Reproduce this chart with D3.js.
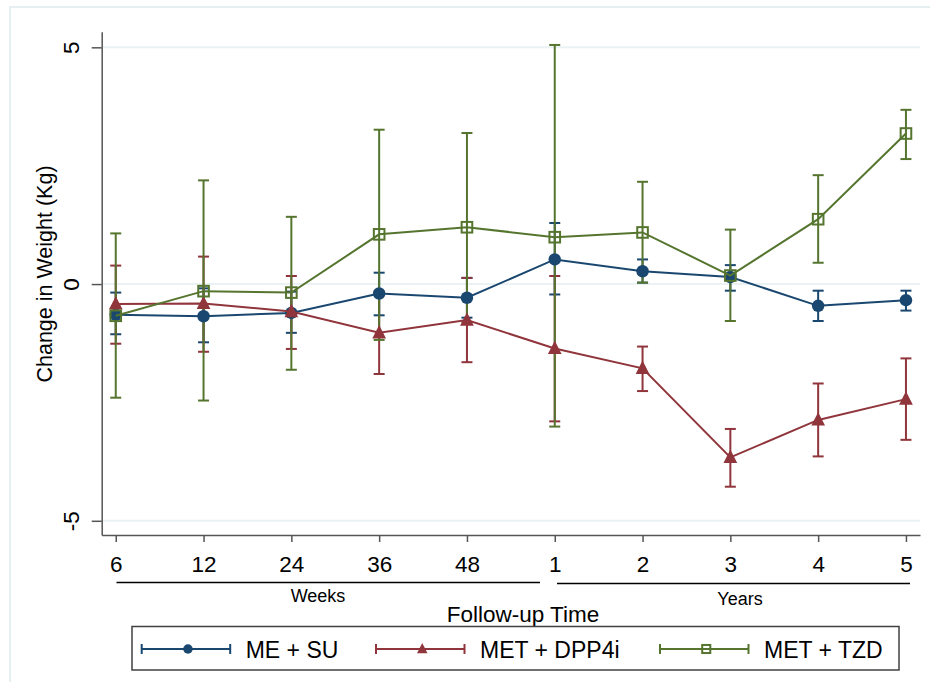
<!DOCTYPE html>
<html>
<head>
<meta charset="utf-8">
<script src="https://cdn.jsdelivr.net/npm/d3@7"></script>
<style>
  body { margin: 0; background: #fff; }
  svg { display: block; font-family: "Liberation Sans", Arial, sans-serif; }
</style>
</head>
<body>
<svg id="chart" width="930" height="682"></svg>
<script>
// follow-up points: weeks then years
var categories = ["6", "12", "24", "36", "48", "1", "2", "3", "4", "5"];
var yTicks = [-5, 0, 5];

// ME + SU
var suMean = [-0.65, -0.68, -0.61, -0.20, -0.29, 0.52, 0.27, 0.15, -0.46, -0.34];
var suLow  = [-1.06, -1.23, -1.03, -0.66, -0.71, -0.22, 0.03, -0.14, -0.78, -0.56];
var suHigh = [-0.18, -0.09, -0.16, 0.24, 0.13, 1.29, 0.52, 0.40, -0.14, -0.14];

// MET + DPP4i
var dppMean = [-0.42, -0.41, -0.58, -1.03, -0.76, -1.36, -1.78, -3.66, -2.87, -2.43];
var dppLow  = [-1.26, -1.43, -1.37, -1.90, -1.65, -2.90, -2.26, -4.28, -3.64, -3.29];
var dppHigh = [0.39, 0.58, 0.17, -0.16, 0.13, 0.17, -1.32, -3.06, -2.10, -1.57];

// MET + TZD
var tzdMean = [-0.67, -0.15, -0.18, 1.05, 1.20, 0.99, 1.09, 0.18, 1.37, 3.18];
var tzdLow  = [-2.40, -2.46, -1.81, -1.18, -0.80, -3.01, 0.03, -0.78, 0.45, 2.64];
var tzdHigh = [1.07, 2.19, 1.42, 3.26, 3.19, 5.05, 2.16, 1.15, 2.30, 3.68];

var series = [
    { name: "ME + SU",     color: "#1a476f", marker: "circle",   mean: suMean,  low: suLow,  high: suHigh },
    { name: "MET + DPP4i", color: "#90353b", marker: "triangle", mean: dppMean, low: dppLow, high: dppHigh },
    { name: "MET + TZD",   color: "#55752f", marker: "square",   mean: tzdMean, low: tzdLow, high: tzdHigh }
];

var svg = d3.select("#chart");
var plot = { left: 101.7, right: 920, top: 31.7, bottom: 535 };

var x = d3.scaleLinear().domain([-0.16, 9.16]).range([plot.left, plot.right]);
var y = d3.scaleLinear().domain([-5.3, 5.33]).range([plot.bottom, plot.top]);

// outer graph region outline
svg.append("rect")
    .attr("x", 10).attr("y", 7).attr("width", 940).attr("height", 700)
    .attr("fill", "none").attr("stroke", "#e6eff1").attr("stroke-width", 2);

// gridlines
svg.append("g").selectAll("line")
    .data(yTicks)
    .join("line")
    .attr("x1", plot.left).attr("x2", plot.right)
    .attr("y1", function (d) { return y(d); })
    .attr("y2", function (d) { return y(d); })
    .attr("stroke", "#eaf2f3").attr("stroke-width", 2);

// y axis (stata style: labels turned sideways, plain hyphen minus)
var yAxis = svg.append("g")
    .attr("transform", "translate(" + plot.left + ",0)")
    .call(d3.axisLeft(y).tickValues(yTicks).tickSize(10).tickSizeOuter(0)
        .tickFormat(function (d) { return String(d); }));
yAxis.select(".domain").attr("stroke", "#555").attr("stroke-width", 1.5);
yAxis.selectAll(".tick line").attr("stroke", "#555").attr("stroke-width", 1.5);
yAxis.selectAll(".tick text")
    .attr("x", null).attr("dy", null)
    .attr("transform", "translate(-22.5,0) rotate(-90)")
    .attr("text-anchor", "middle")
    .attr("font-size", 22.5).attr("fill", "#000")
    .style("font-family", "Liberation Sans, Arial, sans-serif");

// x axis
var xAxis = svg.append("g")
    .attr("transform", "translate(0," + plot.bottom + ")")
    .call(d3.axisBottom(x).tickValues(d3.range(categories.length)).tickSize(7).tickSizeOuter(0)
        .tickFormat(function (i) { return categories[i]; }));
xAxis.select(".domain").attr("stroke", "#555").attr("stroke-width", 1.5);
xAxis.selectAll(".tick line").attr("stroke", "#555").attr("stroke-width", 1.5);
xAxis.selectAll(".tick text")
    .attr("y", 36.5).attr("dy", null)
    .attr("font-size", 22.5).attr("fill", "#000")
    .style("font-family", "Liberation Sans, Arial, sans-serif");

// weeks / years brackets
svg.append("line").attr("x1", 116.5).attr("x2", 540).attr("y1", 582.5).attr("y2", 582.5)
    .attr("stroke", "#000").attr("stroke-width", 1.3);
svg.append("line").attr("x1", 557).attr("x2", 910).attr("y1", 583.5).attr("y2", 583.5)
    .attr("stroke", "#000").attr("stroke-width", 1.3);
svg.append("text").attr("x", 318).attr("y", 601.5).attr("text-anchor", "middle")
    .attr("font-size", 18).text("Weeks");
svg.append("text").attr("x", 740).attr("y", 604.5).attr("text-anchor", "middle")
    .attr("font-size", 18).text("Years");

// axis titles
svg.append("text").attr("x", 523).attr("y", 621.5).attr("text-anchor", "middle")
    .attr("font-size", 22.5).text("Follow-up Time");
svg.append("text")
    .attr("transform", "translate(52,274) rotate(-90)")
    .attr("text-anchor", "middle")
    .attr("font-size", 21.5).text("Change in Weight (Kg)");

var CAP = 5.5;

// error bars
series.forEach(function (s) {
    var g = svg.append("g").attr("stroke", s.color).attr("stroke-width", 2).attr("fill", "none");
    var idx = d3.range(s.mean.length);
    g.selectAll(".bar").data(idx).join("line")
        .attr("x1", function (i) { return x(i); }).attr("x2", function (i) { return x(i); })
        .attr("y1", function (i) { return y(s.low[i]); })
        .attr("y2", function (i) { return y(s.high[i]); });
    g.selectAll(".capL").data(idx).join("line")
        .attr("x1", function (i) { return x(i) - CAP; }).attr("x2", function (i) { return x(i) + CAP; })
        .attr("y1", function (i) { return y(s.low[i]); })
        .attr("y2", function (i) { return y(s.low[i]); });
    g.selectAll(".capH").data(idx).join("line")
        .attr("x1", function (i) { return x(i) - CAP; }).attr("x2", function (i) { return x(i) + CAP; })
        .attr("y1", function (i) { return y(s.high[i]); })
        .attr("y2", function (i) { return y(s.high[i]); });
});

function drawMarker(g, type, cx, cy, color, size) {
    if (type === "circle") {
        g.append("circle").attr("cx", cx).attr("cy", cy).attr("r", size * 0.5)
            .attr("fill", color).attr("stroke", "none");
    } else if (type === "triangle") {
        var h = size * 1.0, w = size * 1.1;
        g.append("path")
            .attr("d", "M" + cx + "," + (cy - h * 0.62) + "L" + (cx + w / 2) + "," + (cy + h * 0.45) +
                       "L" + (cx - w / 2) + "," + (cy + h * 0.45) + "Z")
            .attr("fill", color).attr("stroke", "none");
    } else {
        var a = size * 0.85;
        g.append("rect").attr("x", cx - a / 2).attr("y", cy - a / 2).attr("width", a).attr("height", a)
            .attr("fill", "none").attr("stroke", color).attr("stroke-width", 2);
    }
}

// connected lines and markers
var line = d3.line()
    .x(function (d, i) { return x(i); })
    .y(function (d) { return y(d); });

series.forEach(function (s) {
    var g = svg.append("g");
    g.append("path").attr("d", line(s.mean))
        .attr("fill", "none").attr("stroke", s.color).attr("stroke-width", 2);
    s.mean.forEach(function (v, i) {
        drawMarker(g, s.marker, x(i), y(v), s.color, 12.5);
    });
});

// legend
svg.append("rect").attr("x", 132).attr("y", 626.5).attr("width", 767).attr("height", 43.5)
    .attr("fill", "#fff").attr("stroke", "#404040").attr("stroke-width", 1.5);

var legendX = [141.7, 376, 660];
var legendY = 649;
series.forEach(function (s, k) {
    var g = svg.append("g");
    var x0 = legendX[k], x1 = legendX[k] + 88.5;
    g.append("line").attr("x1", x0).attr("x2", x1).attr("y1", legendY).attr("y2", legendY)
        .attr("stroke", s.color).attr("stroke-width", 2);
    [x0, x1].forEach(function (xx) {
        g.append("line").attr("x1", xx).attr("x2", xx).attr("y1", legendY - 5).attr("y2", legendY + 5)
            .attr("stroke", s.color).attr("stroke-width", 2);
    });
    drawMarker(g, s.marker, (x0 + x1) / 2 + 2, legendY, s.color, 9.5);
    g.append("text").attr("x", x1 + 15.5).attr("y", legendY + 8.5)
        .attr("font-size", 23).text(s.name);
});
</script>
</body>
</html>
